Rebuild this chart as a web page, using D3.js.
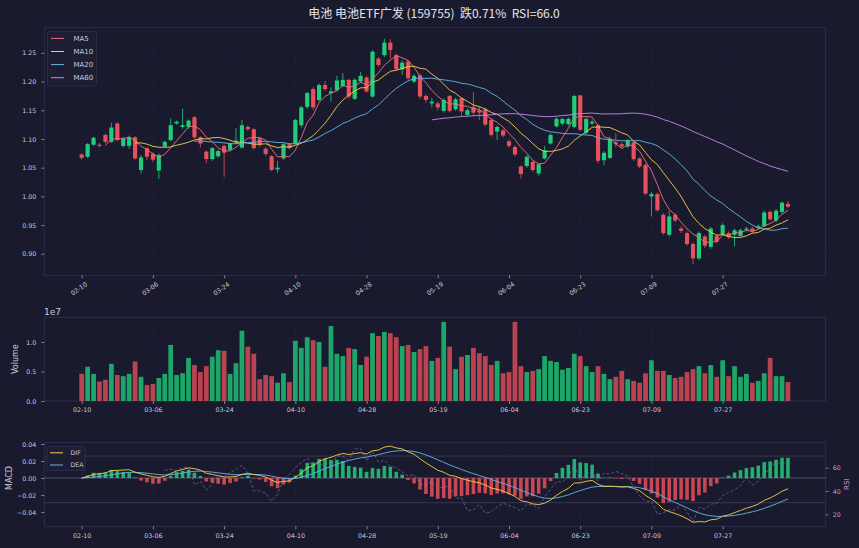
<!DOCTYPE html>
<html><head><meta charset="utf-8">
<script src="https://cdn.jsdelivr.net/npm/d3@7/dist/d3.min.js"></script>
<style>
body{margin:0;background:#1a1a2e;}
svg{display:block;font-family:"DejaVu Sans",sans-serif;}
</style>
</head><body>
<svg id="chart" width="859" height="548"></svg>
<script>
// ---------------- DATA ----------------
const titleText = "电池 电池ETF广发 (159755)\u00a0\u00a0跌0.71%\u00a0\u00a0RSI=66.0";
const tickLabels = ["02-10","03-06","03-24","04-10","04-28","05-19","06-04","06-23","07-09","07-27"];
const tickIndex  = [0,12,24,36,48,60,72,84,96,108];

const openP = [1.073,1.069,1.090,1.090,1.107,1.095,1.127,1.088,1.088,1.103,
1.046,1.084,1.074,1.045,1.087,1.098,1.127,1.121,1.121,1.138,
1.103,1.078,1.065,1.070,1.088,1.081,1.094,1.085,1.121,1.117,
1.101,1.083,1.070,1.047,1.066,1.091,1.092,1.124,1.156,1.187,
1.168,1.194,1.180,1.185,1.192,1.203,1.170,1.200,1.207,1.174,
1.240,1.246,1.268,1.246,1.221,1.235,1.200,1.211,1.175,1.162,
1.162,1.149,1.175,1.152,1.171,1.142,1.156,1.150,1.152,1.133,
1.113,1.115,1.096,1.086,1.052,1.053,1.060,1.040,1.066,1.092,
1.122,1.127,1.126,1.121,1.176,1.111,1.127,1.124,1.063,1.067,
1.094,1.091,1.087,1.094,1.066,1.055,1.000,1.004,0.968,0.933,
0.968,0.944,0.936,0.917,0.892,0.930,0.912,0.931,0.934,0.936,
0.933,0.931,0.942,0.944,0.945,0.948,0.973,0.958,0.973,0.987];
const closeP = [1.067,1.091,1.102,1.088,1.095,1.120,1.098,1.101,1.103,1.066,
1.068,1.069,1.064,1.072,1.095,1.124,1.130,1.124,1.132,1.103,
1.092,1.065,1.084,1.079,1.076,1.092,1.097,1.124,1.117,1.084,
1.090,1.074,1.046,1.050,1.091,1.084,1.133,1.155,1.180,1.155,
1.194,1.187,1.183,1.202,1.203,1.174,1.203,1.210,1.183,1.252,
1.229,1.268,1.255,1.222,1.233,1.206,1.210,1.174,1.168,1.165,
1.155,1.168,1.149,1.169,1.148,1.150,1.146,1.146,1.125,1.107,
1.121,1.106,1.088,1.073,1.039,1.069,1.046,1.056,1.080,1.107,
1.135,1.135,1.135,1.175,1.116,1.135,1.130,1.062,1.076,1.100,
1.091,1.087,1.097,1.065,1.052,1.005,1.004,0.976,0.936,0.965,
0.958,0.940,0.917,0.892,0.936,0.914,0.944,0.921,0.950,0.929,
0.941,0.941,0.944,0.939,0.948,0.972,0.960,0.975,0.989,0.982];
const highP = [1.075,1.093,1.104,1.093,1.109,1.128,1.129,1.104,1.106,1.105,
1.072,1.086,1.077,1.075,1.097,1.136,1.132,1.153,1.134,1.140,
1.105,1.080,1.086,1.082,1.090,1.094,1.119,1.133,1.124,1.119,
1.103,1.086,1.072,1.062,1.093,1.093,1.135,1.158,1.182,1.190,
1.197,1.201,1.190,1.210,1.215,1.205,1.206,1.217,1.210,1.255,
1.243,1.275,1.274,1.249,1.237,1.238,1.213,1.214,1.178,1.172,
1.165,1.171,1.177,1.172,1.173,1.153,1.182,1.156,1.155,1.136,
1.124,1.118,1.099,1.089,1.054,1.072,1.063,1.058,1.088,1.110,
1.138,1.137,1.138,1.177,1.177,1.138,1.134,1.126,1.079,1.104,
1.110,1.094,1.100,1.097,1.068,1.057,1.008,1.007,0.971,0.975,
0.971,0.948,0.939,0.920,0.939,0.933,0.947,0.934,0.953,0.939,
0.944,0.944,0.947,0.947,0.951,0.975,0.976,0.978,0.991,0.992];
const lowP = [1.064,1.067,1.088,1.085,1.092,1.093,1.096,1.085,1.083,1.064,
1.040,1.063,1.060,1.030,1.085,1.096,1.125,1.118,1.118,1.100,
1.085,1.058,1.062,1.067,1.034,1.079,1.092,1.083,1.114,1.082,
1.086,1.070,1.044,1.041,1.064,1.082,1.090,1.120,1.152,1.151,
1.165,1.184,1.165,1.183,1.190,1.170,1.168,1.198,1.180,1.172,
1.226,1.243,1.240,1.219,1.212,1.203,1.197,1.170,1.163,1.155,
1.150,1.146,1.146,1.149,1.140,1.139,1.140,1.133,1.122,1.104,
1.098,1.103,1.085,1.070,1.031,1.050,1.043,1.036,1.064,1.090,
1.120,1.124,1.123,1.119,1.114,1.108,1.124,1.058,1.054,1.065,
1.086,1.084,1.084,1.062,1.049,1.002,0.965,0.973,0.933,0.930,
0.955,0.936,0.914,0.882,0.889,0.910,0.909,0.918,0.931,0.926,
0.913,0.930,0.939,0.936,0.942,0.946,0.957,0.955,0.970,0.979];
// volume in millions of shares
const volumeM = [4.6,5.8,4.6,3.3,3.6,6.3,4.4,4.2,4.6,6.7,
4.1,2.7,2.9,3.9,4.6,9.5,4.4,4.7,7.3,6.1,
4.9,5.9,7.5,8.6,8.5,4.6,6.4,11.9,9.2,8.0,
3.7,4.4,4.2,3.1,4.7,3.2,10.2,9.0,10.8,10.3,
10.0,5.8,12.7,8.0,7.6,9.0,8.8,6.1,7.5,11.5,
11.0,11.7,11.5,10.8,9.3,9.5,8.3,8.8,9.3,6.8,
7.3,13.4,9.2,5.4,7.5,7.8,9.0,8.1,7.6,6.1,
6.8,4.7,4.9,13.4,5.9,4.9,5.1,5.4,7.6,6.8,
6.6,5.3,5.6,8.0,7.6,5.9,4.9,5.9,4.6,3.7,
4.1,5.1,3.7,3.4,3.1,4.7,6.9,5.1,5.1,4.4,
3.9,4.1,4.9,5.4,5.9,4.7,6.1,4.1,6.9,4.2,
5.9,4.1,4.6,3.1,3.4,4.7,7.3,4.2,4.2,3.2];

const maPeriods = [5,10,20,60];
const maNames = ["MA5","MA10","MA20","MA60"];

// ---------------- STYLE ----------------
const BG = "#1a1a2e", FRAME = "#2e3150", GRID = "#2b2e48", TXT = "#c9cad6";
const UP = "#1fce7a", DOWN = "#e8505b";
const maColors = ["#f0707c","#f5d04a","#62b6e6","#c58be8"];
const DIFC = "#f5d04a", DEAC = "#62b6e6", RSIC = "#8f74c4", RSIAX = "#c39bd3";

// ---------------- INDICATORS ----------------
const n = closeP.length;
const idx = d3.range(n);
function sma(arr, p){ return arr.map((v,i)=> i<p-1 ? null : d3.mean(arr.slice(i-p+1,i+1))); }
function ema(arr, span){ const a=2/(span+1); const out=[]; arr.forEach((v,i)=>{ out.push(i===0? v : a*v+(1-a)*out[i-1]); }); return out; }
const mas = maPeriods.map(p=>sma(closeP,p));
const e12 = ema(closeP,12), e26 = ema(closeP,26);
const dif = closeP.map((c,i)=>e12[i]-e26[i]);
const dea = ema(dif,9);
const hist = dif.map((d,i)=>2*(d-dea[i]));
const rsi = closeP.map((c,i)=>{
  if(i<14) return null;
  let g=0,l=0;
  for(let k=i-13;k<=i;k++){ const d=closeP[k]-closeP[k-1]; if(d>0) g+=d; else l-=d; }
  g/=14; l/=14;
  return l===0?100:100-100/(1+g/l);
});

// ---------------- LAYOUT ----------------
const svg = d3.select("#chart");
svg.append("rect").attr("width",859).attr("height",548).attr("fill",BG);
const L = 44.3, R = 825.7;
const P1 = {top:27.3,bottom:275.3}, P2 = {top:317.3,bottom:401}, P3 = {top:442.3,bottom:526.3};

const x = d3.scaleLinear().domain([-6.3,125.36]).range([L,R]);
const step = x(1)-x(0);
const yP = d3.scaleLinear().domain([0.8625,1.2946]).range([P1.bottom,P1.top]);
const yV = d3.scaleLinear().domain([0,1.418e7]).range([P2.bottom,P2.top]);
const yM = d3.scaleLinear().domain([-0.0568,0.042]).range([P3.bottom,P3.top]);
const yR = d3.scaleLinear().domain([9.7,81.8]).range([P3.bottom,P3.top]);

function panelFrame(p){
  svg.append("rect").attr("x",L).attr("y",p.top).attr("width",R-L).attr("height",p.bottom-p.top)
    .attr("fill",BG).attr("stroke",FRAME).attr("stroke-width",0.8);
}
function styleAxis(g, color){
  g.selectAll(".domain").remove();
  g.selectAll("line").attr("stroke",color||TXT).attr("stroke-width",0.6);
  g.selectAll("text").attr("fill",color||TXT).style("font-size","6.3px").style("font-family","DejaVu Sans");
}
function vgrid(p){
  svg.append("g").selectAll("line").data(tickIndex).join("line")
    .attr("x1",d=>x(d)).attr("x2",d=>x(d)).attr("y1",p.top).attr("y2",p.bottom)
    .attr("stroke",GRID).attr("stroke-width",0.6).attr("stroke-dasharray","1.5,2");
}
function hgrid(scale,ticks){
  svg.append("g").selectAll("line").data(ticks).join("line")
    .attr("x1",L).attr("x2",R).attr("y1",d=>scale(d)).attr("y2",d=>scale(d))
    .attr("stroke",GRID).attr("stroke-width",0.6).attr("stroke-dasharray","1.5,2");
}
const xAxis = d3.axisBottom(x).tickValues(tickIndex).tickFormat((d,i)=>tickLabels[i]).tickSize(3).tickPadding(4);

// ---------------- TITLE ----------------
svg.append("text").attr("x",434).attr("y",17.5).attr("text-anchor","middle")
  .attr("fill","#e4e4ec").style("font-size","12px")
  .style("font-family","'Noto Sans CJK SC','DejaVu Sans',sans-serif").text(titleText);

// ---------------- PANEL 1: candles ----------------
panelFrame(P1);
const pTicks = [0.90,0.95,1.00,1.05,1.10,1.15,1.20,1.25];
hgrid(yP,pTicks); vgrid(P1);
const gy1 = svg.append("g").attr("transform",`translate(${L},0)`)
  .call(d3.axisLeft(yP).tickValues(pTicks).tickFormat(d3.format(".2f")).tickSize(3).tickPadding(5));
styleAxis(gy1);
const gx1 = svg.append("g").attr("transform",`translate(0,${P1.bottom})`).call(xAxis.tickFormat(""));
styleAxis(gx1);
svg.append("g").selectAll("text").data(tickIndex).join("text")
  .attr("transform",d=>`translate(${x(d)+6},${P1.bottom+10}) rotate(-35)`)
  .attr("text-anchor","end").attr("fill",TXT).style("font-size","6.3px").text((d,i)=>tickLabels[i]);

const bodyW = step*0.7;
const cg = svg.append("g");
cg.selectAll("line.wick").data(idx).join("line").attr("class","wick")
  .attr("x1",i=>x(i)).attr("x2",i=>x(i)).attr("y1",i=>yP(highP[i])).attr("y2",i=>yP(lowP[i]))
  .attr("stroke",i=>closeP[i]>=openP[i]?UP:DOWN).attr("stroke-width",0.8);
cg.selectAll("rect").data(idx).join("rect")
  .attr("x",i=>x(i)-bodyW/2).attr("width",bodyW)
  .attr("y",i=>yP(Math.max(openP[i],closeP[i])))
  .attr("height",i=>Math.max(0.8,Math.abs(yP(openP[i])-yP(closeP[i]))))
  .attr("fill",i=>closeP[i]>=openP[i]?UP:DOWN);

const lineGen = s => d3.line().defined(i=>s[i]!=null).x(i=>x(i)).y(i=>yP(s[i]))(idx);
mas.forEach((s,k)=>{
  svg.append("path").attr("d",lineGen(s)).attr("fill","none").attr("stroke",maColors[k]).attr("stroke-width",0.9);
});
// legend
const lg = svg.append("g");
lg.append("rect").attr("x",47.5).attr("y",31.5).attr("width",49).attr("height",54.5).attr("rx",1.5)
  .attr("fill","#1d1e33").attr("stroke","#34375a").attr("stroke-width",0.6);
maNames.forEach((nm,k)=>{
  const yy = 38.4 + k*13.1;
  lg.append("line").attr("x1",51).attr("x2",64).attr("y1",yy).attr("y2",yy).attr("stroke",maColors[k]).attr("stroke-width",1);
  lg.append("text").attr("x",73.5).attr("y",yy+2.5).attr("fill",TXT).style("font-size","7px").text(nm);
});

// ---------------- PANEL 2: volume ----------------
panelFrame(P2);
const vTicks = [0,0.5e7,1.0e7];
hgrid(yV,[0.5e7,1.0e7]); vgrid(P2);
const gy2 = svg.append("g").attr("transform",`translate(${L},0)`)
  .call(d3.axisLeft(yV).tickValues(vTicks).tickFormat(d=>(d/1e7).toFixed(1)).tickSize(3).tickPadding(5));
styleAxis(gy2);
const gx2 = svg.append("g").attr("transform",`translate(0,${P2.bottom})`).call(xAxis.tickFormat((d,i)=>tickLabels[i]));
styleAxis(gx2);
svg.append("text").attr("x",44).attr("y",315).attr("fill",TXT).style("font-size","9px").text("1e7");
svg.append("text").attr("transform",`translate(18,${(P2.top+P2.bottom)/2}) rotate(-90)`).attr("text-anchor","middle")
  .attr("fill",TXT).style("font-size","8px").text("Volume");
const volW = step*0.8;
svg.append("g").selectAll("rect").data(idx).join("rect")
  .attr("x",i=>x(i)-volW/2).attr("width",volW)
  .attr("y",i=>yV(volumeM[i]*1e6)).attr("height",i=>yV(0)-yV(volumeM[i]*1e6))
  .attr("fill",i=>closeP[i]>=openP[i]?UP:DOWN).attr("opacity",0.78);

// ---------------- PANEL 3: MACD + RSI ----------------
panelFrame(P3);
vgrid(P3);
[70,30].forEach(v=>{
  svg.append("line").attr("x1",L).attr("x2",R).attr("y1",yR(v)).attr("y2",yR(v))
    .attr("stroke","#4a4e6a").attr("stroke-width",0.6);
});
svg.append("line").attr("x1",L).attr("x2",R).attr("y1",yM(0)).attr("y2",yM(0))
  .attr("stroke","#6a6e88").attr("stroke-width",0.7);
const mTicks = [-0.04,-0.02,0,0.02,0.04];
const gy3 = svg.append("g").attr("transform",`translate(${L},0)`)
  .call(d3.axisLeft(yM).tickValues(mTicks).tickFormat(d3.format(".2f")).tickSize(3).tickPadding(5));
styleAxis(gy3);
gy3.selectAll("text").text(d=>d<0?"\u2212"+Math.abs(d).toFixed(2):d.toFixed(2));
const gr3 = svg.append("g").attr("transform",`translate(${R},0)`)
  .call(d3.axisRight(yR).tickValues([20,40,60]).tickSize(3).tickPadding(4));
styleAxis(gr3, RSIAX);
svg.append("text").attr("transform",`translate(849,${(P3.top+P3.bottom)/2}) rotate(-90)`).attr("text-anchor","middle")
  .attr("fill",RSIAX).style("font-size","7px").text("RSI");
const gx3 = svg.append("g").attr("transform",`translate(0,${P3.bottom})`).call(xAxis.tickFormat((d,i)=>tickLabels[i]));
styleAxis(gx3);
svg.append("text").attr("transform",`translate(12,${yM(0)}) rotate(-90)`).attr("text-anchor","middle")
  .attr("fill",TXT).style("font-size","8px").text("MACD");

const hW = step*0.6;
svg.append("g").selectAll("rect").data(idx).join("rect")
  .attr("x",i=>x(i)-hW/2).attr("width",hW)
  .attr("y",i=>Math.min(yM(0),yM(hist[i]))).attr("height",i=>Math.abs(yM(hist[i])-yM(0)))
  .attr("fill",i=>hist[i]>=0?UP:DOWN).attr("opacity",0.85);
const mLine = s => d3.line().x(i=>x(i)).y(i=>yM(s[i]))(idx);
svg.append("path").attr("d",mLine(dea)).attr("fill","none").attr("stroke",DEAC).attr("stroke-width",0.9);
svg.append("path").attr("d",mLine(dif)).attr("fill","none").attr("stroke",DIFC).attr("stroke-width",0.9);
svg.append("path").attr("d",d3.line().defined(i=>rsi[i]!=null).x(i=>x(i)).y(i=>yR(rsi[i]))(idx))
  .attr("fill","none").attr("stroke",RSIC).attr("stroke-width",0.8).attr("stroke-dasharray","3,2").attr("opacity",0.75);
// legend
const lg3 = svg.append("g");
lg3.append("rect").attr("x",47).attr("y",446.5).attr("width",38).attr("height",24).attr("rx",1.5)
  .attr("fill","#1d1e33").attr("stroke","#34375a").attr("stroke-width",0.6);
[["DIF",DIFC],["DEA",DEAC]].forEach((e,k)=>{
  const yy = 452.8 + k*12.2;
  lg3.append("line").attr("x1",50).attr("x2",63).attr("y1",yy).attr("y2",yy).attr("stroke",e[1]).attr("stroke-width",1);
  lg3.append("text").attr("x",70.5).attr("y",yy+2.3).attr("fill",TXT).style("font-size","6.3px").text(e[0]);
});
</script>
</body></html>
